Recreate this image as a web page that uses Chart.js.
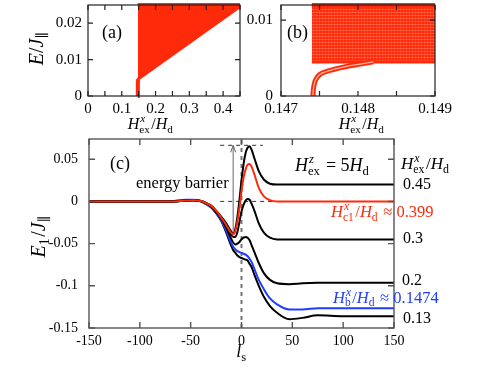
<!DOCTYPE html>
<html><head><meta charset="utf-8">
<script src="https://cdn.jsdelivr.net/npm/chart.js@4.4.1/dist/chart.umd.min.js"></script>
<style>
html,body{margin:0;padding:0;background:#fff;}
#wrap{position:relative;width:479px;height:371px;overflow:hidden;}
canvas{position:absolute;}
.pre{position:absolute;left:-999px;top:0;font-family:"Liberation Serif";}
</style></head><body>
<span class="pre">0.1 H</span><span class="pre" style="font-style:italic">H E J</span>
<div id="wrap">
<canvas id="ca" width="250" height="140" style="left:0;top:0"></canvas>
<canvas id="cb" width="235" height="140" style="left:244px;top:0"></canvas>
<canvas id="cc" width="479" height="239" style="left:0;top:132px"></canvas>
</div>
<script>
// bound state branch, drawn in (a) and (b)
var boundH = [0.147415, 0.147418, 0.147425, 0.147438, 0.14746, 0.1475, 0.14758, 0.14768, 0.14785, 0.14803, 0.1482];
var boundE = [0, 0.0006, 0.0012, 0.0018, 0.0023, 0.0028, 0.0032, 0.0035, 0.0039, 0.0042, 0.0045];
// continuum band edges
var bandHa = [0.1474, 0.45];
var bandLowA = [0.0046, 0.0246];
var bandTopA = [0.025, 0.025];
var bandHb = [0.1474, 0.149];
var bandLowB = [0.0045, 0.0045];
var bandTopB = [0.012, 0.012];

// panel (c): E1 vs l_s
var lsGrid = [-150,-70,-55,-48,-40,-35,-30,-25,-20,-15,-11,-8,-6,-4,-2,0,2,4,6,8,10,13,17,22,28,35,47,60,75,100,150];
var e045  = [0,0,0.001,0.0015,0.0005,-0.002,-0.005,-0.011,-0.018,-0.026,-0.034,-0.038,-0.032,-0.018,0.002,0.025,0.044,0.057,0.0635,0.0655,0.061,0.05,0.036,0.026,0.021,0.020,0.020,0.020,0.020,0.020,0.020];
var e0399 = [0,0,0.001,0.0015,0.0005,-0.002,-0.005,-0.011,-0.019,-0.028,-0.036,-0.039,-0.035,-0.024,-0.008,0.012,0.028,0.038,0.0435,0.0445,0.041,0.031,0.016,0.006,0.0015,0,0,0,0,0,0];
var e030  = [0,0,0.001,0.0015,0.0005,-0.002,-0.005,-0.012,-0.019,-0.029,-0.038,-0.042,-0.042,-0.036,-0.024,-0.012,-0.004,0.001,0.003,0.002,-0.003,-0.012,-0.026,-0.037,-0.043,-0.045,-0.045,-0.045,-0.045,-0.045,-0.045];
var e020  = [0,0,0.001,0.0015,0.0005,-0.002,-0.006,-0.012,-0.02,-0.031,-0.042,-0.049,-0.051,-0.05,-0.048,-0.045,-0.043,-0.042,-0.043,-0.046,-0.052,-0.061,-0.073,-0.085,-0.093,-0.097,-0.098,-0.097,-0.0965,-0.0965,-0.0965];
var e1474 = [0,0.0002,0.002,0.002,0.0005,-0.003,-0.007,-0.013,-0.022,-0.035,-0.047,-0.054,-0.057,-0.059,-0.06,-0.061,-0.062,-0.063,-0.065,-0.068,-0.072,-0.081,-0.093,-0.104,-0.115,-0.122,-0.128,-0.128,-0.1265,-0.1265,-0.1265];
var e013  = [0,0,0.0015,0.0015,0,-0.003,-0.007,-0.014,-0.023,-0.037,-0.05,-0.058,-0.061,-0.064,-0.066,-0.067,-0.068,-0.069,-0.07,-0.074,-0.078,-0.088,-0.1,-0.113,-0.124,-0.132,-0.1395,-0.138,-0.135,-0.136,-0.136];
// guide lines in (c)
var guideTopL = [-21, 21], guideTopE = [0.0665, 0.0665];
var guideZeroL = [-21, 31], guideZeroE = [0, 0];
var guideVL = [0, 0], guideVE = [-0.15, 0.074];
var barrierL = -8.2, barrierFrom = -0.037, barrierTo = 0.0665;

// ticks
var aXTicks = [0,0.05,0.1,0.15,0.2,0.25,0.3,0.35,0.4,0.45];
var aXLabels = ['0','','0.1','','0.2','','0.3','','0.4',''];
var aYTicks = [0,0.01,0.02];
var aYLabels = ['0','0.01','0.02'];
var bXTicks = [0.147,0.1475,0.148,0.1485,0.149];
var bXLabels = ['0.147','','0.148','','0.149'];
var bYTicks = [0,0.01];
var bYLabels = ['0','0.01'];
var cXTicks = [-150,-100,-50,0,50,100,150];
var cXLabels = ['-150','-100','-50','0','50','100','150'];
var cYTicks = [-0.15,-0.1,-0.05,0,0.05];
var cYLabels = ['-0.15','-0.1','-0.05','0','0.05'];

var RED = '#ff2a0a', BLUE = '#1f3cff';
var SERIF = '"Liberation Serif", "DejaVu Serif", serif';

function pts(xs, ys) { return xs.map(function (x, i) { return {x: x, y: ys[i]}; }); }
function F(it, s) { return (it ? 'italic ' : '') + s + 'px ' + SERIF; }

// small math typesetter: {t, i} text, {sup, sub} stacked scripts
function mtext(ctx, parts, x, y, size, color, align) {
  var ss = size * 0.7, w = 0;
  var ws = parts.map(function (p) {
    var pw;
    if (p.t !== undefined) { ctx.font = F(p.i, size); pw = ctx.measureText(p.t).width; }
    else {
      ctx.font = F(true, ss); var a = p.sup ? ctx.measureText(p.sup).width : 0;
      ctx.font = F(false, ss); var b = p.sub ? ctx.measureText(p.sub).width : 0;
      pw = Math.max(a, b) + 1.5;
    }
    w += pw; return pw;
  });
  var cx = align === 'center' ? x - w / 2 : (align === 'right' ? x - w : x);
  ctx.fillStyle = color; ctx.textBaseline = 'alphabetic'; ctx.textAlign = 'left';
  parts.forEach(function (p, k) {
    if (p.t !== undefined) { ctx.font = F(p.i, size); ctx.fillText(p.t, cx, y); }
    else {
      if (p.sup) { ctx.font = F(true, ss); ctx.fillText(p.sup, cx + 1, y - size * 0.42); }
      if (p.sub) { ctx.font = F(false, ss); ctx.fillText(p.sub, cx, y + size * 0.22); }
    }
    cx += ws[k];
  });
}

var Hx = [{t:'H', i:1}, {sup:'x', sub:'ex'}, {t:'/'}, {t:'H', i:1}, {sub:'d'}];

function textPlugin(items) {
  return {id: 'txt', afterDraw: function (chart) {
    var ctx = chart.ctx;
    items.forEach(function (it) {
      ctx.save();
      if (it.rot) {
        ctx.translate(it.x, it.y); ctx.rotate(-Math.PI / 2);
        mtext(ctx, it.p, 0, it.size * 0.3, it.size, it.c || '#000', 'center');
      } else {
        mtext(ctx, it.p, it.x, it.y, it.size, it.c || '#000', it.a || 'left');
      }
      ctx.restore();
    });
  }};
}

function framePlugin(len, color, lw) {
  return {id: 'frame', afterDatasetsDraw: function (chart) {
    var ctx = chart.ctx, a = chart.chartArea, x = chart.scales.x, y = chart.scales.y;
    ctx.save();
    ctx.strokeStyle = color; ctx.lineWidth = lw;
    ctx.beginPath();
    x.ticks.forEach(function (t) {
      var p = x.getPixelForValue(t.value);
      ctx.moveTo(p, a.bottom); ctx.lineTo(p, a.bottom - len);
      ctx.moveTo(p, a.top); ctx.lineTo(p, a.top + len);
    });
    y.ticks.forEach(function (t) {
      var p = y.getPixelForValue(t.value);
      ctx.moveTo(a.left, p); ctx.lineTo(a.left + len, p);
      ctx.moveTo(a.right, p); ctx.lineTo(a.right - len, p);
    });
    ctx.stroke();
    ctx.strokeRect(a.left, a.top, a.right - a.left, a.bottom - a.top);
    ctx.restore();
  }};
}

function axis(min, max, ticks, labels, size, pad, fit, isX) {
  return {
    type: 'linear', min: min, max: max,
    afterBuildTicks: function (s) { s.ticks = ticks.map(function (v) { return {value: v}; }); },
    afterFit: function (s) {
      if (isX) s.height = fit; else s.width = fit;
      s.paddingTop = 0; s.paddingBottom = 0; s.paddingLeft = 0; s.paddingRight = 0;
    },
    grid: {display: false, drawTicks: false},
    border: {display: false},
    ticks: {autoSkip: false, maxRotation: 0, padding: pad, color: '#000',
      font: {family: SERIF, size: size},
      callback: function (v, i) { return labels[i]; }}
  };
}

function baseOptions(pad, xs, ys) {
  return {
    responsive: false, animation: false, events: [],
    layout: {padding: pad},
    elements: {point: {radius: 0}, line: {tension: 0}},
    plugins: {legend: {display: false}, tooltip: {enabled: false}},
    scales: {x: xs, y: ys}
  };
}

function bandPattern() {
  var c = document.createElement('canvas'); c.width = 3; c.height = 3;
  var g = c.getContext('2d');
  g.fillStyle = RED; g.fillRect(0, 0, 3, 3);
  g.fillStyle = 'rgba(255,150,120,0.4)'; g.fillRect(0, 0, 3, 1);
  g.fillStyle = 'rgba(255,150,120,0.2)'; g.fillRect(0, 0, 1, 3);
  return g.createPattern(c, 'repeat');
}

function draw() {
  // (a)
  new Chart(document.getElementById('ca'), {
    type: 'line',
    data: {datasets: [
      {data: pts(boundH, boundE), borderColor: RED, borderWidth: 4, clip: 4},
      {data: pts(bandHa, bandTopA), borderColor: RED, borderWidth: 4, clip: 4},
      {data: pts(bandHa, bandLowA), borderColor: RED, borderWidth: 3, clip: 4, fill: '-1', backgroundColor: RED}
    ]},
    options: baseOptions({left: 0, top: 5, right: 10, bottom: 0},
      axis(0, 0.45, aXTicks, aXLabels, 15, 4, 44, true),
      axis(0, 0.025, aYTicks, aYLabels, 15, 6, 88, false)),
    plugins: [framePlugin(5, '#222', 1.2), textPlugin([
      {p: [{t:'(a)'}], x: 102, y: 38, size: 18},
      {p: Hx, x: 151, y: 129, size: 16, a: 'center'},
      {p: [{t:'E', i:1}, {t:'/'}, {t:'J', i:1}, {sub:'\u2225'}], x: 37, y: 48, size: 20, rot: true}
    ])]
  });

  // (b)
  new Chart(document.getElementById('cb'), {
    type: 'line',
    data: {datasets: [
      {data: pts(boundH, boundE), borderColor: '#ffb49e', borderWidth: 1.3, clip: 4, cubicInterpolationMode: 'monotone'},
      {data: pts(boundH, boundE), borderColor: RED, borderWidth: 5, clip: 4, cubicInterpolationMode: 'monotone'},
      {data: pts(bandHb, bandTopB), borderColor: RED, borderWidth: 4, clip: 4},
      {data: pts(bandHb, bandLowB), borderColor: RED, borderWidth: 3, clip: 4, fill: '-1', backgroundColor: bandPattern()}
    ]},
    options: baseOptions({left: 0, top: 5, right: 44, bottom: 0},
      axis(0.147, 0.149, bXTicks, bXLabels, 15, 4, 44, true),
      axis(0, 0.012, bYTicks, bYLabels, 15, 8, 37, false)),
    plugins: [framePlugin(5, '#222', 1.2), textPlugin([
      {p: [{t:'(b)'}], x: 43, y: 38, size: 18},
      {p: Hx, x: 118, y: 129, size: 16, a: 'center'}
    ])]
  });

  // (c)
  var arrowPlugin = {id: 'arrow', afterDatasetsDraw: function (chart) {
    var ctx = chart.ctx, x = chart.scales.x, y = chart.scales.y;
    var px = x.getPixelForValue(barrierL), y0 = y.getPixelForValue(barrierFrom), y1 = y.getPixelForValue(barrierTo);
    ctx.save();
    ctx.strokeStyle = '#666'; ctx.lineWidth = 1;
    ctx.beginPath();
    ctx.moveTo(px, y0); ctx.lineTo(px, y1);
    ctx.moveTo(px - 2.5, y1 + 7); ctx.lineTo(px, y1); ctx.lineTo(px + 2.5, y1 + 7);
    ctx.stroke();
    ctx.restore();
  }};

  function curve(ys, color) {
    return {data: pts(lsGrid, ys), borderColor: color, borderWidth: 2, cubicInterpolationMode: 'monotone'};
  }
  function guide(xs, ys, color, w) {
    return {data: pts(xs, ys), borderColor: color, borderWidth: w, borderDash: [4, 4]};
  }

  new Chart(document.getElementById('cc'), {
    type: 'line',
    data: {datasets: [
      curve(e0399, RED),
      curve(e045, '#000'),
      curve(e030, '#000'),
      curve(e020, '#000'),
      curve(e1474, BLUE),
      curve(e013, '#000'),
      guide(guideVL, guideVE, '#777', 2),
      guide(guideTopL, guideTopE, '#444', 1.1),
      guide(guideZeroL, guideZeroE, '#444', 1.1)
    ]},
    options: baseOptions({left: 0, top: 7, right: 85, bottom: 0},
      axis(-150, 150, cXTicks, cXLabels, 14, 5, 43, true),
      axis(-0.15, 0.074, cYTicks, cYLabels, 14, 11, 89, false)),
    plugins: [arrowPlugin, framePlugin(6, '#555', 1.4), textPlugin([
      {p: [{t:'(c)'}], x: 110, y: 37, size: 18},
      {p: [{t:'energy barrier'}], x: 136, y: 56, size: 16.5},
      {p: [{t:'H', i:1}, {sup:'z', sub:'ex'}, {t:' = 5'}, {t:'H', i:1}, {sub:'d'}], x: 295, y: 39, size: 18},
      {p: Hx, x: 401, y: 37, size: 17},
      {p: [{t:'0.45'}], x: 403, y: 57, size: 16},
      {p: [{t:'H', i:1}, {sup:'x', sub:'c1'}, {t:'/'}, {t:'H', i:1}, {sub:'d'}, {t:' \u2248 0.399'}], x: 331, y: 85, size: 16.5, c: RED},
      {p: [{t:'0.3'}], x: 403, y: 111, size: 16},
      {p: [{t:'0.2'}], x: 402, y: 153, size: 16},
      {p: [{t:'H', i:1}, {sup:'x', sub:'b'}, {t:'/'}, {t:'H', i:1}, {sub:'d'}, {t:' \u2248 0.1474'}], x: 333, y: 170.5, size: 16.5, c: BLUE},
      {p: [{t:'0.13'}], x: 403, y: 191, size: 16},
      {p: [{t:'l', i:1}, {sub:'s'}], x: 242, y: 225, size: 18, a: 'center'},
      {p: [{t:'E', i:1}, {sub:'1'}, {t:'/'}, {t:'J', i:1}, {sub:'\u2225'}], x: 39, y: 104, size: 20, rot: true}
    ])]
  });
}

Promise.all([
  document.fonts.load('15px "Liberation Serif"'),
  document.fonts.load('italic 15px "Liberation Serif"')
]).then(draw, draw);
</script>
</body></html>
